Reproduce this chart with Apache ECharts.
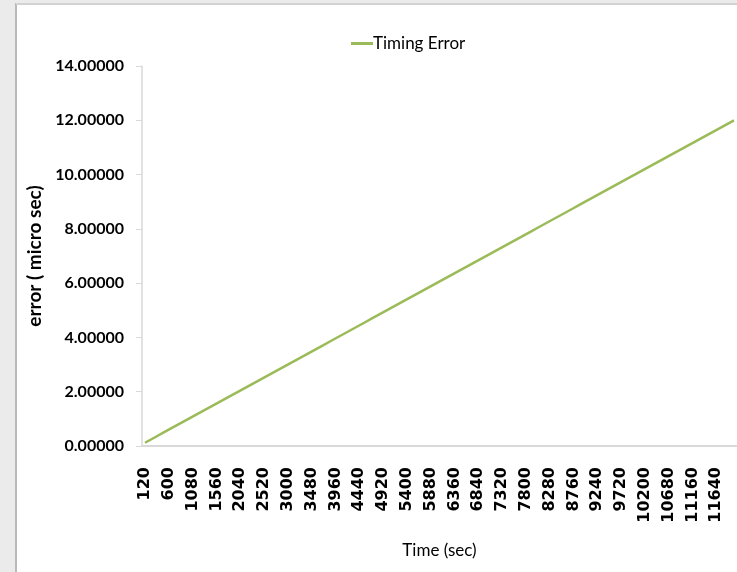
<!DOCTYPE html>
<html>
<head>
<meta charset="utf-8">
<script src="https://cdn.jsdelivr.net/npm/echarts@6/dist/echarts.min.js"></script>
<style>
  html, body { margin: 0; padding: 0; overflow: hidden; background: #ebebeb; }
  #chart { width: 737px; height: 572px; }
</style>
</head>
<body>
<div id="chart"></div>
<script>
// Sample times (sec), one sample every 120 s
const timeSec = [
  120, 240, 360, 480, 600, 720, 840, 960, 1080, 1200,
  1320, 1440, 1560, 1680, 1800, 1920, 2040, 2160, 2280, 2400,
  2520, 2640, 2760, 2880, 3000, 3120, 3240, 3360, 3480, 3600,
  3720, 3840, 3960, 4080, 4200, 4320, 4440, 4560, 4680, 4800,
  4920, 5040, 5160, 5280, 5400, 5520, 5640, 5760, 5880, 6000,
  6120, 6240, 6360, 6480, 6600, 6720, 6840, 6960, 7080, 7200,
  7320, 7440, 7560, 7680, 7800, 7920, 8040, 8160, 8280, 8400,
  8520, 8640, 8760, 8880, 9000, 9120, 9240, 9360, 9480, 9600,
  9720, 9840, 9960, 10080, 10200, 10320, 10440, 10560, 10680, 10800,
  10920, 11040, 11160, 11280, 11400, 11520, 11640, 11760, 11880, 12000
];

// Accumulated timing error (micro sec) at each sample
const timingError = [
  0.12, 0.24, 0.36, 0.48, 0.60, 0.72, 0.84, 0.96, 1.08, 1.20,
  1.32, 1.44, 1.56, 1.68, 1.80, 1.92, 2.04, 2.16, 2.28, 2.40,
  2.52, 2.64, 2.76, 2.88, 3.00, 3.12, 3.24, 3.36, 3.48, 3.60,
  3.72, 3.84, 3.96, 4.08, 4.20, 4.32, 4.44, 4.56, 4.68, 4.80,
  4.92, 5.04, 5.16, 5.28, 5.40, 5.52, 5.64, 5.76, 5.88, 6.00,
  6.12, 6.24, 6.36, 6.48, 6.60, 6.72, 6.84, 6.96, 7.08, 7.20,
  7.32, 7.44, 7.56, 7.68, 7.80, 7.92, 8.04, 8.16, 8.28, 8.40,
  8.52, 8.64, 8.76, 8.88, 9.00, 9.12, 9.24, 9.36, 9.48, 9.60,
  9.72, 9.84, 9.96, 10.08, 10.20, 10.32, 10.44, 10.56, 10.68, 10.80,
  10.92, 11.04, 11.16, 11.28, 11.40, 11.52, 11.64, 11.76, 11.88, 12.00
];

// Value-axis ticks
const yTicks = [0, 2, 4, 6, 8, 10, 12, 14];

const chart = echarts.init(document.getElementById('chart'));

const option = {
  animation: false,
  backgroundColor: '#ebebeb',
  graphic: [
    { type: 'rect', z: -10, shape: { x: 17, y: 4, width: 740, height: 600 },
      style: { fill: '#ffffff' }, silent: true },
    { type: 'line', z: -9, shape: { x1: 16, y1: 3, x2: 16, y2: 600 },
      style: { stroke: '#b9b9b9', lineWidth: 2 }, silent: true },
    { type: 'line', z: -9, shape: { x1: 16, y1: 4, x2: 760, y2: 4 },
      style: { stroke: '#d2d2d2', lineWidth: 2 }, silent: true }
  ],
  legend: {
    data: ['Timing Error'],
    left: 346,
    top: 30,
    itemWidth: 22,
    itemHeight: 3,
    itemGap: 4,
    icon: 'rect',
    textStyle: { fontFamily: 'Lato', fontSize: 17, color: '#000', padding: [0, 0, 0, -5] }
  },
  grid: { left: 142, top: 66, width: 596, height: 380, containLabel: false },
  xAxis: {
    type: 'category',
    data: timeSec,
    boundaryGap: true,
    name: 'Time (sec)',
    nameLocation: 'middle',
    nameGap: 96,
    nameTextStyle: { fontFamily: 'Lato', fontSize: 17, color: '#000' },
    axisLine: { lineStyle: { color: '#d9d9d9', width: 2 } },
    axisTick: { show: false },
    axisLabel: {
      interval: 3,
      rotate: 90,
      margin: 21,
      fontFamily: 'DejaVu Sans',
      fontSize: 16,
      fontWeight: 'bold',
      color: '#000'
    },
    splitLine: { show: false }
  },
  yAxis: {
    type: 'value',
    min: yTicks[0],
    max: yTicks[yTicks.length - 1],
    interval: 2,
    name: 'error ( micro sec)',
    nameLocation: 'middle',
    nameGap: 90,
    nameTextStyle: { fontFamily: 'Lato', fontSize: 19, fontWeight: 'bold', color: '#000' },
    axisLine: { show: true, lineStyle: { color: '#d9d9d9', width: 1.5 } },
    axisTick: { show: true, length: 6, lineStyle: { color: '#d9d9d9' } },
    axisLabel: {
      margin: 18,
      fontFamily: 'Lato',
      fontSize: 16,
      fontWeight: 'bold',
      color: '#000',
      formatter: v => v.toFixed(5)
    },
    splitLine: { show: false }
  },
  series: [{
    name: 'Timing Error',
    type: 'line',
    data: timingError,
    showSymbol: false,
    symbol: 'none',
    lineStyle: { color: '#9bbb59', width: 2.5 },
    itemStyle: { color: '#9bbb59' }
  }]
};

chart.setOption(option);
</script>
</body>
</html>
